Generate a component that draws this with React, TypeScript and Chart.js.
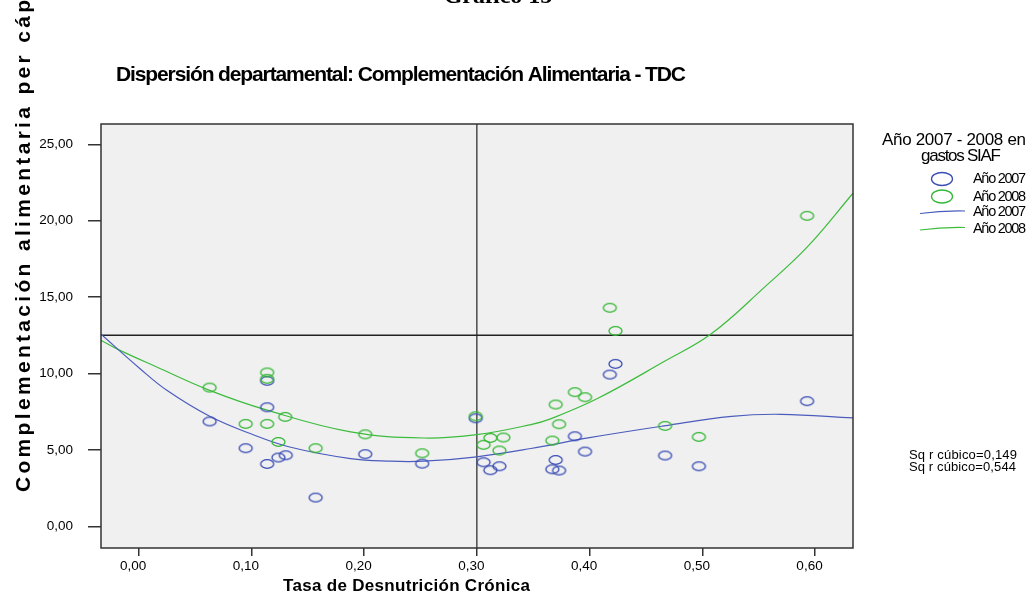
import React, { useEffect, useRef } from "react";
import { Chart, registerables } from "chart.js";

Chart.register(...registerables);

// ---------- data ----------
const xTickValues = [0, 0.1, 0.2, 0.3, 0.4, 0.5, 0.6];
const yTickValues = [0, 5, 10, 15, 20, 25];

const tdc2007 = [0.063, 0.095, 0.114, 0.114, 0.114, 0.124, 0.1305, 0.157, 0.201, 0.2515, 0.299, 0.306, 0.312, 0.32, 0.367, 0.37, 0.373, 0.387, 0.396, 0.418, 0.423, 0.467, 0.497, 0.593];
const gasto2007 = [6.86, 5.11, 9.52, 7.79, 4.08, 4.5, 4.65, 1.88, 4.72, 4.1, 7.07, 4.19, 3.67, 3.93, 3.73, 4.34, 3.65, 5.89, 4.89, 9.93, 10.63, 4.63, 3.93, 8.19];

const tdc2008 = [0.063, 0.095, 0.114, 0.114, 0.114, 0.124, 0.13, 0.157, 0.201, 0.2515, 0.299, 0.306, 0.312, 0.3236, 0.32, 0.367, 0.37, 0.373, 0.387, 0.396, 0.418, 0.423, 0.467, 0.497, 0.593];
const gasto2008 = [9.08, 6.7, 10.07, 9.65, 6.7, 5.52, 7.16, 5.11, 6.02, 4.78, 7.2, 5.33, 5.78, 5.81, 4.96, 5.61, 7.97, 6.68, 8.78, 8.45, 14.3, 12.79, 6.57, 5.85, 20.32];

const fit2007X = [-0.0334, 0.001, 0.025, 0.063, 0.099, 0.134, 0.188, 0.223, 0.253, 0.3, 0.348, 0.4, 0.466, 0.526, 0.57, 0.6337];
const fit2007Y = [12.57, 10.33, 8.9, 7.2, 6.07, 5.19, 4.43, 4.26, 4.26, 4.55, 5.09, 5.8, 6.57, 7.2, 7.33, 7.09];

const fit2008X = [-0.0334, -0.017, 0.016, 0.063, 0.114, 0.188, 0.253, 0.3, 0.348, 0.366, 0.407, 0.4665, 0.508, 0.5555, 0.5934, 0.6337];
const fit2008Y = [12.18, 11.53, 10.43, 8.9, 7.6, 6.18, 5.78, 6.0, 6.66, 7.05, 8.36, 10.8, 12.6, 15.67, 18.3, 21.8];

const refX = 0.3;
const refY = 12.5;

const seriesLabels = ["Año 2007", "Año 2008"];
const rSquaredLabels = ["Sq r cúbico=0,149", "Sq r cúbico=0,544"];

const BLUE = "#3a4db5";
const GREEN = "#35b835";
const BLUE_LINE = "#4a5cbc";
const GREEN_LINE = "#3cbc3c";

const fmt = (v: number) => v.toFixed(2).replace(".", ",");

function makeEllipse(color: string, w: number, h: number, lw: number) {
  const c = document.createElement("canvas");
  c.width = w + 4;
  c.height = h + 4;
  const g = c.getContext("2d")!;
  g.strokeStyle = color;
  g.lineWidth = lw;
  g.beginPath();
  g.ellipse(c.width / 2, c.height / 2, w / 2, h / 2, 0, 0, Math.PI * 2);
  g.stroke();
  return c;
}

function fitText(
  ctx: CanvasRenderingContext2D,
  text: string,
  x: number,
  y: number,
  width: number,
  font: string,
  measureText?: string
) {
  ctx.save();
  ctx.font = font;
  (ctx as any).letterSpacing = "0px";
  const ref = measureText ?? text;
  const natural = ctx.measureText(ref).width;
  const ls = (width - natural) / Math.max(1, ref.length - 1);
  (ctx as any).letterSpacing = ls + "px";
  ctx.fillText(text, x, y);
  ctx.restore();
}

export default function App() {
  const ref = useRef<HTMLCanvasElement>(null);

  useEffect(() => {
    const canvas = ref.current!;
    const ellBlue = makeEllipse(BLUE, 13, 8.6, 1.3);
    const ellGreen = makeEllipse(GREEN, 13, 8.6, 1.3);

    const decor = {
      id: "decor",
      beforeDraw(chart: any) {
        const { ctx, chartArea: a } = chart;
        ctx.save();
        ctx.fillStyle = "#ffffff";
        ctx.fillRect(0, 0, chart.width, chart.height);
        ctx.fillStyle = "#f0f0f0";
        ctx.fillRect(a.left, a.top, a.right - a.left, a.bottom - a.top);
        ctx.restore();
      },
      beforeDatasetsDraw(chart: any) {
        const { ctx, chartArea: a, scales } = chart;
        const px = scales.x.getPixelForValue(refX);
        const py = scales.y.getPixelForValue(refY);
        ctx.save();
        ctx.lineWidth = 1.6;
        ctx.strokeStyle = "#555555";
        ctx.beginPath();
        ctx.moveTo(px, a.top);
        ctx.lineTo(px, a.bottom);
        ctx.stroke();
        ctx.strokeStyle = "#222222";
        ctx.beginPath();
        ctx.moveTo(a.left, py);
        ctx.lineTo(a.right, py);
        ctx.stroke();
        ctx.restore();
      },
      afterDraw(chart: any) {
        const { ctx, chartArea: a } = chart;
        ctx.save();
        // plot frame
        ctx.strokeStyle = "#333333";
        ctx.lineWidth = 1.5;
        ctx.strokeRect(a.left, a.top, a.right - a.left, a.bottom - a.top);

        ctx.fillStyle = "#000";
        ctx.textBaseline = "middle";
        ctx.textAlign = "left";

        // chart heading (cut off at top)
        ctx.save();
        ctx.font = "bold 24px 'Liberation Serif', serif";
        ctx.textAlign = "center";
        ctx.textBaseline = "alphabetic";
        ctx.fillText("Gráfico 15", 498, 3);
        ctx.restore();

        // title
        fitText(ctx, "Dispersión departamental: Complementación Alimentaria - TDC", 116, 75, 570, "bold 21px Arial");

        // y-axis title
        ctx.save();
        ctx.translate(30, 492);
        ctx.rotate(-Math.PI / 2);
        ctx.textBaseline = "alphabetic";
        fitText(ctx, "Complementación alimentaria per cápita", 0, 0, 492, "bold 21px Arial", "Complementación alimentaria per cáp");
        ctx.restore();

        // x-axis title
        fitText(ctx, "Tasa de Desnutrición Crónica", 283, 586, 247, "bold 17px Arial");

        // legend
        fitText(ctx, "Año 2007 - 2008 en", 882, 140, 144, "17px Arial");
        fitText(ctx, "gastos SIAF", 921, 156, 80, "17px Arial");
        const rows = [179, 196.5, 212, 228.5];
        ctx.lineWidth = 1.3;
        ctx.strokeStyle = BLUE;
        ctx.beginPath();
        ctx.ellipse(942, rows[0], 10.5, 6.5, 0, 0, Math.PI * 2);
        ctx.stroke();
        ctx.strokeStyle = GREEN;
        ctx.beginPath();
        ctx.ellipse(942, rows[1], 10.5, 6.5, 0, 0, Math.PI * 2);
        ctx.stroke();
        const wave = (color: string, y: number) => {
          ctx.strokeStyle = color;
          ctx.lineWidth = 1.2;
          ctx.beginPath();
          ctx.moveTo(920, y + 1.5);
          ctx.quadraticCurveTo(942, y - 1.5, 965, y - 1);
          ctx.stroke();
        };
        wave(BLUE_LINE, rows[2]);
        wave(GREEN_LINE, rows[3]);
        const labels = [seriesLabels[0], seriesLabels[1], seriesLabels[0], seriesLabels[1]];
        labels.forEach((t, i) => fitText(ctx, t, 973, rows[i], 53, "14.5px Arial"));

        // R² notes
        fitText(ctx, rSquaredLabels[0], 909, 455, 108, "13px Arial");
        fitText(ctx, rSquaredLabels[1], 909, 467, 107, "13px Arial");
        ctx.restore();
      },
    };

    const chart = new Chart(canvas, {
      type: "scatter",
      data: {
        datasets: [
          {
            label: seriesLabels[0],
            data: tdc2007.map((x, i) => ({ x, y: gasto2007[i] })),
            pointStyle: ellBlue as any,
            showLine: false,
            order: 2,
          },
          {
            label: seriesLabels[1],
            data: tdc2008.map((x, i) => ({ x, y: gasto2008[i] })),
            pointStyle: ellGreen as any,
            showLine: false,
            order: 1,
          },
          {
            type: "line",
            label: seriesLabels[0] + " ajuste",
            data: fit2007X.map((x, i) => ({ x, y: fit2007Y[i] })),
            borderColor: BLUE_LINE,
            borderWidth: 1.2,
            pointRadius: 0,
            fill: false,
            tension: 0.4,
            order: 3,
          } as any,
          {
            type: "line",
            label: seriesLabels[1] + " ajuste",
            data: fit2008X.map((x, i) => ({ x, y: fit2008Y[i] })),
            borderColor: GREEN_LINE,
            borderWidth: 1.2,
            pointRadius: 0,
            fill: false,
            tension: 0.4,
            order: 3,
          } as any,
        ],
      },
      options: {
        responsive: false,
        animation: false,
        layout: { padding: { top: 124, right: 181, left: 0, bottom: 0 } },
        plugins: {
          legend: { display: false },
          tooltip: { enabled: false },
          title: { display: false },
        },
        scales: {
          x: {
            type: "linear",
            min: -0.0334,
            max: 0.6337,
            afterBuildTicks: (s: any) => {
              s.ticks = xTickValues.map((v) => ({ value: v }));
            },
            afterFit: (s: any) => {
              s.height = 52;
            },
            border: { display: false },
            grid: { drawOnChartArea: false, drawTicks: true, tickLength: 8, color: "#333", lineWidth: 1.5 },
            ticks: {
              callback: (v: any) => fmt(Number(v)),
              font: { family: "Arial", size: 13.5 },
              color: "#000",
              labelOffset: -5.5,
              padding: 2,
              maxRotation: 0,
              autoSkip: false,
            },
          },
          y: {
            type: "linear",
            min: -1.42,
            max: 26.33,
            afterBuildTicks: (s: any) => {
              s.ticks = yTickValues.map((v) => ({ value: v }));
            },
            afterFit: (s: any) => {
              s.width = 101;
            },
            border: { display: false },
            grid: { drawOnChartArea: false, drawTicks: true, tickLength: 13, color: "#333", lineWidth: 1.5 },
            ticks: {
              callback: (v: any) => fmt(Number(v)),
              font: { family: "Arial", size: 13.5 },
              color: "#000",
              padding: 15,
              autoSkip: false,
            },
          },
        },
      },
      plugins: [decor],
    } as any);

    return () => chart.destroy();
  }, []);

  return (
    <div style={{ position: "fixed", left: 0, top: 0, width: 1034, height: 600, background: "#fff" }}>
      <canvas ref={ref} width={1034} height={600} style={{ display: "block", width: 1034, height: 600 }} />
    </div>
  );
}
